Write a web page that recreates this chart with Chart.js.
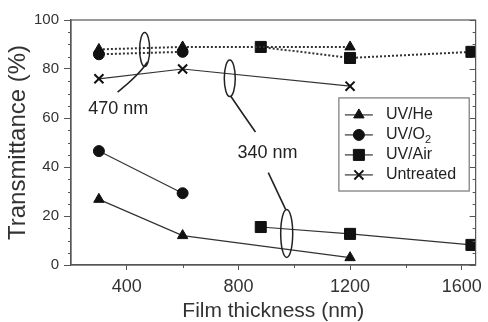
<!DOCTYPE html>
<html>
<head>
<meta charset="utf-8">
<script src="https://cdn.jsdelivr.net/npm/chart.js@4"></script>
<style>
  html, body { margin: 0; padding: 0; background: #fff; }
  canvas { display: block; }
</style>
</head>
<body>
<canvas id="chart" width="488" height="322"></canvas>
<script>
// film thickness (nm) for each treatment
const heThickness = [300, 600, 1200];
const o2Thickness = [300, 600];
const airThickness = [880, 1200, 1635];
const untreatedThickness = [300, 600, 1200];

// transmittance (%) at 470 nm
const he470 = [88, 89, 89];
const o2470 = [86, 87];
const air470 = [89, 84.5, 87];
const untreated470 = [76, 80, 73];

// transmittance (%) at 340 nm
const he340 = [26.8, 12, 3];
const o2340 = [46.5, 29.3];
const air340 = [15.5, 12.7, 8.2];

const legendLabels = ["UV/He", "UV/O2", "UV/Air", "Untreated"];
const xTicks = [400, 800, 1200, 1600];
const yTicks = [0, 20, 40, 60, 80, 100];

const INK = "#111";
const LINE = "#333";
const AXIS = "#555";
const FONT = "'Liberation Sans', Arial, sans-serif";

const pts = (xs, ys) => xs.map((x, i) => ({ x: x, y: ys[i] }));

const styles = {
  he: { pointStyle: "triangle", pointRadius: 6 },
  o2: { pointStyle: "circle", pointRadius: 5.5 },
  air: { pointStyle: "rect", pointRadius: 7.8 },
  un: { pointStyle: "crossRot", pointRadius: 6.4, pointBorderWidth: 2 }
};

function series(label, data, style, dotted) {
  return Object.assign({
    label: label,
    data: data,
    borderColor: LINE,
    backgroundColor: INK,
    pointBackgroundColor: INK,
    pointBorderColor: INK,
    pointBorderWidth: 1,
    borderWidth: dotted ? 2 : 1.2,
    borderDash: dotted ? [2, 2] : [],
    tension: 0,
    fill: false
  }, style);
}

// annotation marks, anchored in data units
const ovals = [
  { x: 464, y: 88, rx: 5, ry: 17 },
  { x: 769, y: 76.2, rx: 5.5, ry: 18.3 },
  { x: 973, y: 12.9, rx: 6, ry: 24 }
];
const leaders = [
  [[474, 82.9], [445, 77.6], [367, 70.6]],
  [[772, 69], [816, 61.6], [861, 54.3]],
  [[907, 37.7], [938, 30.2], [969, 22.7]]
];
const notes = [
  { text: "470 nm", x: 369, y: 63.7 },
  { text: "340 nm", x: 904, y: 45.6 }
];
const legendBox = { x0: 1160, x1: 1627, y0: 68.2, y1: 30.2 };

const extras = {
  id: "extras",
  afterDraw(chart) {
    const { ctx, chartArea: a, scales: { x, y } } = chart;
    const px = v => x.getPixelForValue(v);
    const py = v => y.getPixelForValue(v);

    ctx.save();

    // frame + minor / mirrored ticks
    ctx.strokeStyle = AXIS;
    ctx.lineWidth = 1.2;
    ctx.strokeRect(a.left, a.top, a.right - a.left, a.bottom - a.top);
    ctx.lineWidth = 1;
    ctx.beginPath();
    for (let v = 0; v <= 100; v += 5) {
      const yy = Math.round(py(v)) + 0.5;
      const major = v % 20 === 0;
      if (!major) {
        ctx.moveTo(a.left - 3, yy);
        ctx.lineTo(a.left, yy);
      }
      ctx.moveTo(a.right, yy);
      ctx.lineTo(a.right - (major ? 6 : 3), yy);
    }
    for (let v = 600; v <= 1400; v += 400) {
      const xx = Math.round(px(v)) + 0.5;
      ctx.moveTo(xx, a.bottom);
      ctx.lineTo(xx, a.bottom + 3);
    }
    ctx.stroke();

    // ovals and leader lines
    ctx.strokeStyle = "#222";
    ctx.lineWidth = 1.5;
    ovals.forEach(o => {
      ctx.beginPath();
      ctx.ellipse(px(o.x), py(o.y), o.rx, o.ry, 0, 0, Math.PI * 2);
      ctx.stroke();
    });
    ctx.lineWidth = 1.6;
    leaders.forEach(l => {
      ctx.beginPath();
      ctx.moveTo(px(l[0][0]), py(l[0][1]));
      ctx.quadraticCurveTo(px(l[1][0]), py(l[1][1]), px(l[2][0]), py(l[2][1]));
      ctx.stroke();
    });

    ctx.fillStyle = "#222";
    ctx.font = "18px " + FONT;
    ctx.textAlign = "center";
    ctx.textBaseline = "middle";
    notes.forEach(n => ctx.fillText(n.text, px(n.x), py(n.y)));

    // legend
    const bx = px(legendBox.x0), by = py(legendBox.y0);
    const bw = px(legendBox.x1) - bx, bh = py(legendBox.y1) - by;
    ctx.fillStyle = "#fff";
    ctx.fillRect(bx, by, bw, bh);
    ctx.strokeStyle = "#777";
    ctx.lineWidth = 1.2;
    ctx.strokeRect(bx, by, bw, bh);

    const keys = [styles.he, styles.o2, styles.air, styles.un];
    keys.forEach((s, i) => {
      const ly = by + 17 + i * 20;
      ctx.strokeStyle = LINE;
      ctx.lineWidth = 1.2;
      ctx.beginPath();
      ctx.moveTo(bx + 6, ly);
      ctx.lineTo(bx + 34, ly);
      ctx.stroke();
      ctx.fillStyle = INK;
      ctx.strokeStyle = INK;
      ctx.lineWidth = s.pointBorderWidth || 1;
      Chart.helpers.drawPoint(ctx, {
        pointStyle: s.pointStyle,
        radius: s.pointRadius,
        rotation: 0,
        borderWidth: s.pointBorderWidth || 1
      }, bx + 20, ly);

      ctx.fillStyle = "#222";
      ctx.textAlign = "left";
      ctx.textBaseline = "middle";
      ctx.font = "16px " + FONT;
      const lab = legendLabels[i];
      if (lab === "UV/O2") {
        ctx.fillText("UV/O", bx + 47, ly);
        const w = ctx.measureText("UV/O").width;
        ctx.font = "11px " + FONT;
        ctx.fillText("2", bx + 47 + w, ly + 5);
      } else {
        ctx.fillText(lab, bx + 47, ly);
      }
    });

    ctx.restore();
  }
};

new Chart(document.getElementById("chart"), {
  type: "line",
  data: {
    datasets: [
      series("UV/He", pts(heThickness, he340), styles.he, false),
      series("UV/O2", pts(o2Thickness, o2340), styles.o2, false),
      series("UV/Air", pts(airThickness, air340), styles.air, false),
      series("Untreated", pts(untreatedThickness, untreated470), styles.un, false),
      series("UV/He 470", pts(heThickness, he470), styles.he, true),
      series("UV/O2 470", pts(o2Thickness, o2470), styles.o2, true),
      series("UV/Air 470", pts(airThickness, air470), styles.air, true)
    ]
  },
  options: {
    responsive: false,
    animation: false,
    devicePixelRatio: 1,
    layout: { padding: { top: 20, right: 9, left: 0, bottom: 0 } },
    plugins: {
      legend: { display: false },
      tooltip: { enabled: false }
    },
    scales: {
      x: {
        type: "linear",
        min: 200,
        max: 1650,
        afterFit: s => { s.height = 57; },
        afterBuildTicks: s => { s.ticks = xTicks.map(v => ({ value: v })); },
        ticks: {
          color: "#333",
          font: { family: FONT, size: 18 },
          padding: 6,
          maxRotation: 0,
          callback: v => String(v)
        },
        grid: { drawOnChartArea: false, drawTicks: true, tickLength: 5, color: AXIS },
        border: { display: true, color: AXIS, width: 1.2 },
        title: {
          display: true,
          text: "Film thickness (nm)",
          color: "#333",
          font: { family: FONT, size: 21, lineHeight: 1 },
          padding: { top: 0, bottom: 0 }
        }
      },
      y: {
        min: 0,
        max: 100,
        afterFit: s => { s.width = 71; },
        afterBuildTicks: s => { s.ticks = yTicks.map(v => ({ value: v })); },
        ticks: {
          color: "#333",
          font: { family: FONT, size: 15 },
          padding: 5,
          callback: v => String(v)
        },
        grid: { drawOnChartArea: false, drawTicks: true, tickLength: 7, color: AXIS },
        border: { display: true, color: AXIS, width: 1.2 },
        title: {
          display: true,
          text: "Transmittance (%)",
          color: "#333",
          font: { family: FONT, size: 24, lineHeight: 1 },
          padding: { top: 6, bottom: 0 }
        }
      }
    }
  },
  plugins: [extras]
});
</script>
</body>
</html>
